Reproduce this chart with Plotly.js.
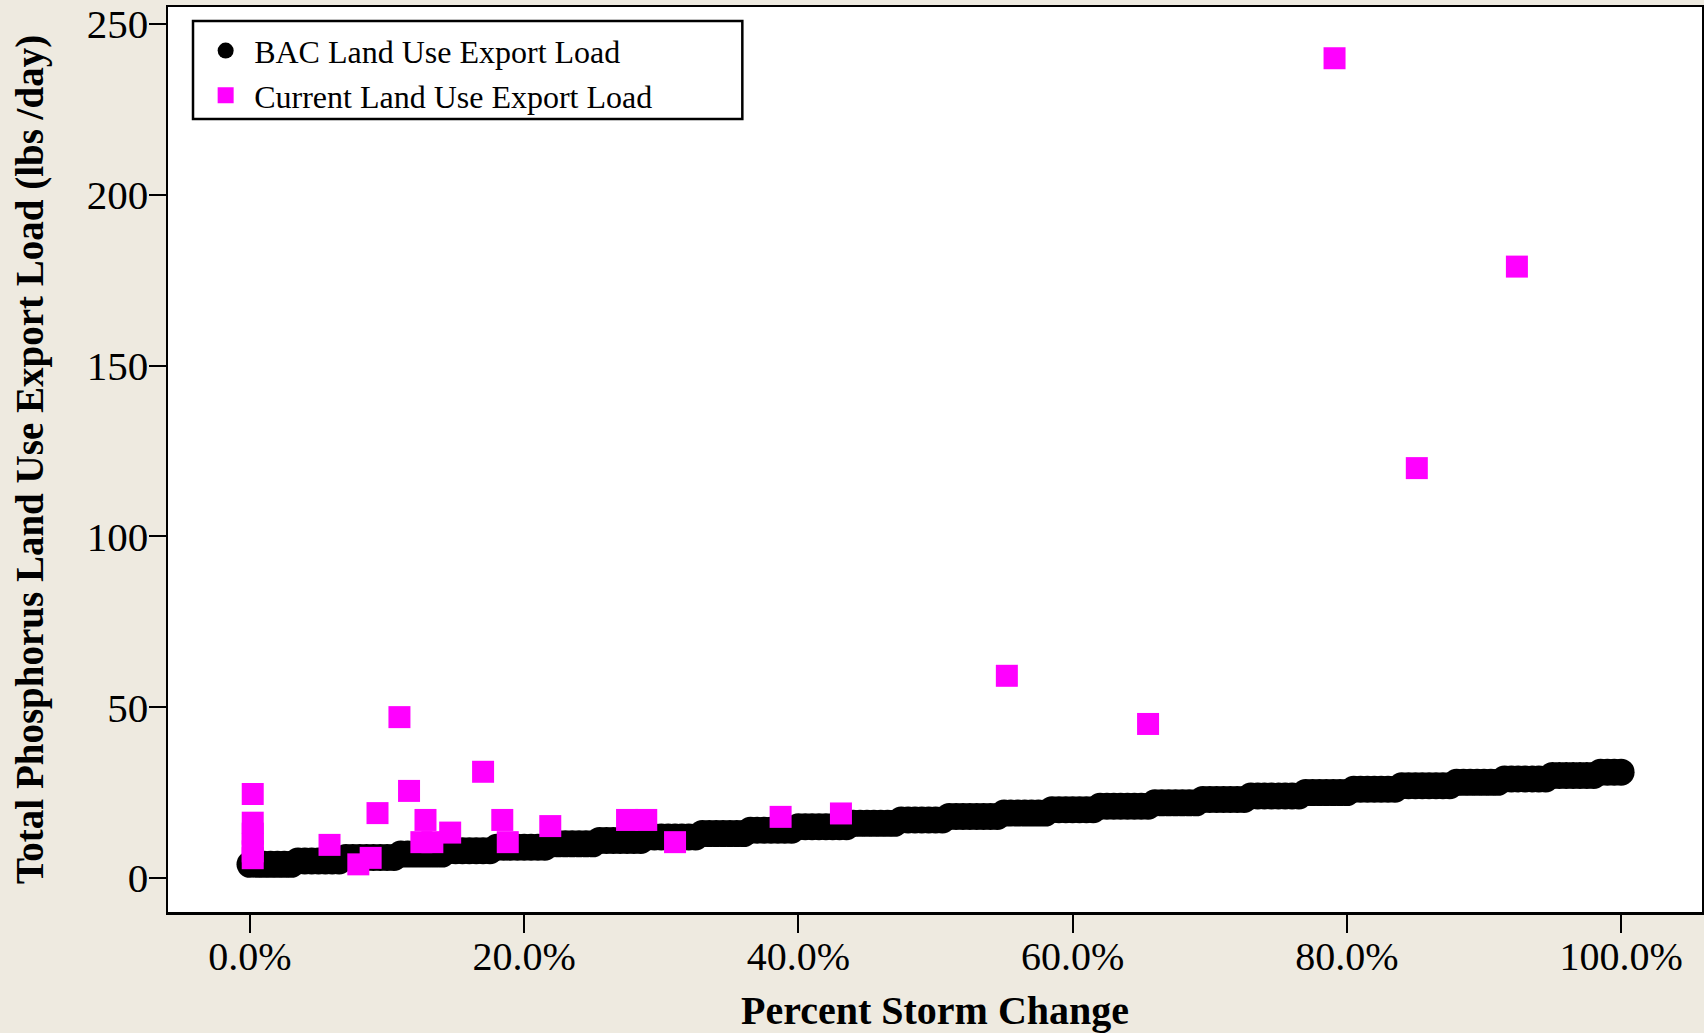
<!DOCTYPE html>
<html>
<head>
<meta charset="utf-8">
<script src="https://cdn.plot.ly/plotly-3.0.1.min.js"></script>
<style>
  html, body { margin: 0; padding: 0; background: #EEEAE0; }
  #chart { width: 1704px; height: 1033px; }
</style>
</head>
<body>
<div id="chart"></div>
<script>
// BAC Land Use Export Load (percent storm change vs lbs/day)
const bacPct = [
  0,0.5,1,1.5,2,2.5,3,3.5,4,4.5,
  5,5.5,6,6.5,7,7.5,8,8.5,9,9.5,
  10,10.5,11,11.5,12,12.5,13,13.5,14,14.5,
  15,15.5,16,16.5,17,17.5,18,18.5,19,19.5,
  20,20.5,21,21.5,22,22.5,23,23.5,24,24.5,
  25,25.5,26,26.5,27,27.5,28,28.5,29,29.5,
  30,30.5,31,31.5,32,32.5,33,33.5,34,34.5,
  35,35.5,36,36.5,37,37.5,38,38.5,39,39.5,
  40,40.5,41,41.5,42,42.5,43,43.5,44,44.5,
  45,45.5,46,46.5,47,47.5,48,48.5,49,49.5,
  50,50.5,51,51.5,52,52.5,53,53.5,54,54.5,
  55,55.5,56,56.5,57,57.5,58,58.5,59,59.5,
  60,60.5,61,61.5,62,62.5,63,63.5,64,64.5,
  65,65.5,66,66.5,67,67.5,68,68.5,69,69.5,
  70,70.5,71,71.5,72,72.5,73,73.5,74,74.5,
  75,75.5,76,76.5,77,77.5,78,78.5,79,79.5,
  80,80.5,81,81.5,82,82.5,83,83.5,84,84.5,
  85,85.5,86,86.5,87,87.5,88,88.5,89,89.5,
  90,90.5,91,91.5,92,92.5,93,93.5,94,94.5,
  95,95.5,96,96.5,97,97.5,98,98.5,99,99.5,
  100];
const bacLoad = [
  4,4,4,4,4,4,4,5,5,5,
  5,5,5,5,6,6,6,6,6,6,
  6,6,7,7,7,7,7,7,7,8,
  8,8,8,8,8,8,9,9,9,9,
  9,9,9,9,10,10,10,10,10,10,
  10,11,11,11,11,11,11,11,12,12,
  12,12,12,12,12,12,13,13,13,13,
  13,13,13,14,14,14,14,14,14,14,
  15,15,15,15,15,15,15,15,16,16,
  16,16,16,16,16,17,17,17,17,17,
  17,17,18,18,18,18,18,18,18,18,
  19,19,19,19,19,19,19,20,20,20,
  20,20,20,20,21,21,21,21,21,21,
  21,21,22,22,22,22,22,22,22,23,
  23,23,23,23,23,23,24,24,24,24,
  24,24,24,24,25,25,25,25,25,25,
  25,26,26,26,26,26,26,26,27,27,
  27,27,27,27,27,27,28,28,28,28,
  28,28,28,29,29,29,29,29,29,29,
  30,30,30,30,30,30,30,31,31,31,
  31];

// Current Land Use Export Load
const curPct = [0.2,0.2,0.2,0.2,0.2,0.2,5.8,7.9,8.8,9.3,10.9,11.6,12.8,12.5,13.3,
  14.6,17.0,18.4,18.8,21.9,27.5,28.9,31.0,38.7,43.1,55.2,65.5,79.1,85.1,92.4];
const curLoad = [24.6,16.2,13.0,10.0,7.8,5.8,9.7,4.0,5.9,19.0,47.1,25.5,17.0,10.5,10.5,
  13.3,31.1,17.0,10.5,15.2,17.0,17.0,10.5,17.9,18.9,59.2,45.1,240.0,120.0,179.0];

const xTickVals = [0, 20, 40, 60, 80, 100];
const xTickText = ["0.0%", "20.0%", "40.0%", "60.0%", "80.0%", "100.0%"];
const yTickVals = [0, 50, 100, 150, 200, 250];

const seriesNames = ["BAC Land Use Export Load", "Current Land Use Export Load"];
const xTitle = "Percent Storm Change";
const yTitle = "Total Phosphorus Land Use Export Load (lbs /day)";

const serif = "'Liberation Serif', 'Times New Roman', serif";

const traces = [
  {
    type: "scatter", mode: "markers", name: seriesNames[0],
    x: bacPct, y: bacLoad,
    marker: { symbol: "circle", size: 27, color: "#000000", line: { width: 0 } }
  },
  {
    type: "scatter", mode: "markers", name: seriesNames[1],
    x: curPct, y: curLoad,
    marker: { symbol: "square", size: 22, color: "#FF00FF", line: { width: 0 } }
  }
];

const layout = {
  width: 1704, height: 1033,
  paper_bgcolor: "#EEEAE0",
  plot_bgcolor: "#FFFFFF",
  margin: { l: 168, r: 2, t: 7, b: 121 },
  font: { family: serif, color: "#000000", size: 40 },
  showlegend: true,
  legend: {
    x: 0.019, y: 0.982, xanchor: "left", yanchor: "top",
    bgcolor: "rgba(0,0,0,0)", borderwidth: 0,
    font: { family: serif, size: 32, color: "#000000" },
    itemsizing: "trace", itemwidth: 47
  },
  shapes: [
    { type: "rect", xref: "paper", yref: "paper",
      x0: 0.0163, x1: 0.3744, y0: 0.8762, y1: 0.9845,
      line: { color: "#000000", width: 2.5 }, fillcolor: "rgba(0,0,0,0)", layer: "above" }
  ],
  xaxis: {
    range: [-5.98, 105.9],
    tickmode: "array", tickvals: xTickVals, ticktext: xTickText,
    ticks: "outside", ticklen: 18, tickwidth: 2, tickcolor: "#000000",
    ticklabelstandoff: -11,
    showline: true, linecolor: "#000000", linewidth: 2.5, mirror: true,
    showgrid: false, zeroline: false,
    tickfont: { family: serif, size: 40, color: "#000000" },
    title: { text: "<b>" + xTitle + "</b>", font: { family: serif, size: 40, color: "#000000" }, standoff: 23 },
    automargin: false
  },
  yaxis: {
    range: [-9.95, 255.0],
    tickmode: "array", tickvals: yTickVals,
    ticks: "outside", ticklen: 17, tickwidth: 2, tickcolor: "#000000",
    ticklabelstandoff: -8,
    showline: true, linecolor: "#000000", linewidth: 2.5, mirror: true,
    showgrid: false, zeroline: false,
    tickfont: { family: serif, size: 41, color: "#000000" },
    title: { text: "<b>" + yTitle + "</b>", font: { family: serif, size: 39, color: "#000000" }, standoff: 31 },
    automargin: false
  }
};

Plotly.newPlot("chart", traces, layout, { displayModeBar: false, staticPlot: true });
</script>
</body>
</html>
